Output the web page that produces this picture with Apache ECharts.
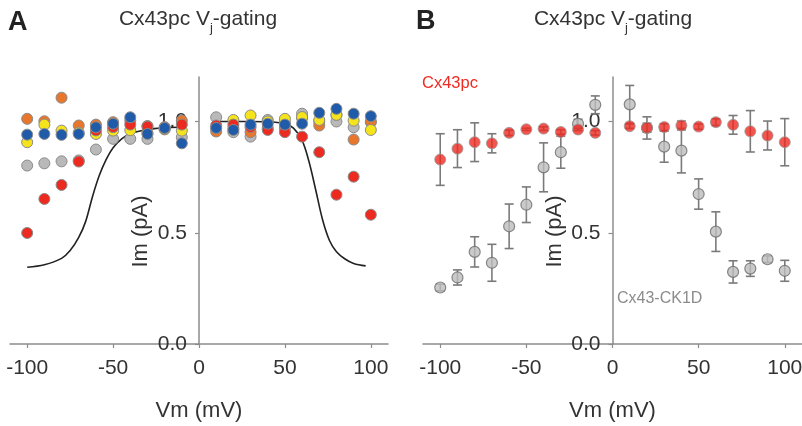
<!DOCTYPE html>
<html>
<head>
<meta charset="utf-8">
<script src="https://cdn.jsdelivr.net/npm/echarts@6/dist/echarts.min.js"></script>
<style>
html,body{margin:0;padding:0;background:#fff;}
#chart{width:802px;height:426px;}
</style>
</head>
<body>
<div id="chart"></div>
<script>
// ---------- data ----------
const vm = [-100,-90,-80,-70,-60,-50,-40,-30,-20,-10,10,20,30,40,50,60,70,80,90,100];
const xTicks = [-100,-50,0,50,100];
const yTicks = [0,0.5,1.0];

// Panel A : individual cells
const cellOrange = [1.012,1.001,1.107,0.982,0.986,0.997,1.004,0.980,0.975,1.004,0.955,0.970,0.952,0.970,0.970,1.015,0.982,1.030,0.919,1.000];
const cellGray   = [0.802,0.812,0.821,0.825,0.874,0.922,0.922,0.922,0.965,0.929,1.019,0.952,0.932,1.007,0.995,1.035,0.998,1.000,0.974,0.997];
const cellYellow = [0.907,0.986,0.959,0.950,0.944,0.959,0.961,0.950,0.965,0.959,0.970,1.007,1.027,1.000,1.012,1.020,1.007,1.030,1.004,0.962];
const cellRed    = [0.499,0.652,0.715,0.820,0.960,0.975,0.986,0.977,0.970,0.986,0.982,0.986,0.975,0.962,0.952,0.932,0.862,0.671,0.752,0.581];
const cellBlue   = [0.941,0.944,0.940,0.944,0.974,0.990,1.019,0.944,0.971,0.902,0.971,0.962,0.986,0.990,0.986,0.990,1.039,1.057,1.035,1.024];

// Panel A : fitted Boltzmann curve
const fitNegVm  = [-100,-90,-80,-75,-70,-66,-62,-58,-54,-50,-45,-40,-30,-20,-12];
const fitNegVal = [0.345,0.356,0.385,0.420,0.479,0.550,0.662,0.758,0.830,0.882,0.922,0.945,0.964,0.972,0.974];
const fitPosVm  = [10,20,30,40,50,55,60,64,68,72,76,80,85,90,97];
const fitPosVal = [1.000,1.000,1.000,0.999,0.990,0.970,0.915,0.820,0.690,0.556,0.464,0.415,0.382,0.362,0.351];

// Panel B : means and error bars
const pcMean  = [0.829,0.878,0.907,0.902,0.949,0.965,0.968,0.953,0.964,0.949,0.979,0.972,0.975,0.982,0.977,0.997,0.985,0.956,0.937,0.907];
const pcErr   = [0.116,0.085,0.087,0.043,0.012,0.005,0.008,0.010,0.005,0.010,0.010,0.020,0.015,0.020,0.012,0.015,0.042,0.093,0.065,0.106];
const ckMean  = [0.254,0.299,0.414,0.365,0.529,0.626,0.794,0.862,0.990,1.075,1.077,0.971,0.887,0.869,0.674,0.505,0.324,0.339,0.381,0.329];
const ckErr   = [0.015,0.034,0.068,0.083,0.100,0.080,0.110,0.072,0.020,0.040,0.085,0.050,0.070,0.100,0.068,0.089,0.050,0.035,0.015,0.047];

// ---------- chart ----------
const FONT = "'Liberation Sans', Arial, sans-serif";
const chart = echarts.init(document.getElementById('chart'), null, {renderer:'canvas'});

function pairs(xs, ys){ return xs.map((x,i)=>[x, ys[i]]); }

function xAxisCfg(gi){
  return {
    type:'value', gridIndex:gi, min:-110, max:110,
    name:'Vm (mV)', nameLocation:'middle', nameGap:56,
    nameTextStyle:{fontFamily:FONT, fontSize:22, color:'#333'},
    axisLine:{onZero:false, lineStyle:{color:'#8c8c8c', width:1.5}},
    axisTick:{show:true, length:4, customValues:xTicks, lineStyle:{color:'#8c8c8c', width:1.2}},
    axisLabel:{customValues:xTicks, margin:14, fontFamily:FONT, fontSize:21, color:'#333'},
    splitLine:{show:false}
  };
}
function yAxisCfg(gi, off){
  return {
    type:'value', gridIndex:gi, min:0, max:1.2, position:'left', offset:off,
    name:'Im (pA)', nameLocation:'middle', nameGap:47, nameRotate:90,
    nameTextStyle:{fontFamily:FONT, fontSize:22, color:'#333', padding:[0,42,0,0]},
    axisLine:{onZero:false, lineStyle:{color:'#8c8c8c', width:1.5}},
    axisTick:{show:true, length:4, customValues:yTicks, lineStyle:{color:'#8c8c8c', width:1.2}},
    axisLabel:{customValues:yTicks, margin:12, fontFamily:FONT, fontSize:21, color:'#333',
      formatter:(v)=>Number(v).toFixed(1)},
    splitLine:{show:false}
  };
}

function cellSeries(data, color, z){
  return {
    type:'scatter', xAxisIndex:0, yAxisIndex:0, data:pairs(vm, data), z:z,
    symbol:'circle', symbolSize:11,
    itemStyle:{color:color, borderColor:'#8a8a8a', borderWidth:1, opacity:1}
  };
}

function errSeries(mean, err, color, z){
  return {
    type:'custom', xAxisIndex:1, yAxisIndex:1, z:z,
    data: vm.map((x,i)=>[x, mean[i]-err[i], mean[i]+err[i]]),
    encode:{x:0, y:[1,2]},
    renderItem:function(params, api){
      const x = api.value(0);
      const lo = api.coord([x, api.value(1)]);
      const hi = api.coord([x, api.value(2)]);
      const w = 4.5;
      const st = {stroke:color, lineWidth:1.6};
      return {type:'group', children:[
        {type:'line', shape:{x1:lo[0], y1:lo[1], x2:hi[0], y2:hi[1]}, style:st},
        {type:'line', shape:{x1:lo[0]-w, y1:lo[1], x2:lo[0]+w, y2:lo[1]}, style:st},
        {type:'line', shape:{x1:hi[0]-w, y1:hi[1], x2:hi[0]+w, y2:hi[1]}, style:st}
      ]};
    }
  };
}

const titleRich = {
  n:{fontFamily:FONT, fontSize:21, fontWeight:'normal', color:'#333', verticalAlign:'bottom', padding:[0,0,5,0]},
  s:{fontFamily:FONT, fontSize:13, fontWeight:'normal', color:'#333', verticalAlign:'bottom', padding:[0,0,0,0]}
};

const option = {
  animation:false,
  backgroundColor:'#fff',
  title:[
    {text:'{n|Cx43pc V}{s|j}{n|-gating}', left:198, top:9, textAlign:'center', padding:0,
      textStyle:{fontWeight:'normal', rich:titleRich}},
    {text:'{n|Cx43pc V}{s|j}{n|-gating}', left:613, top:9, textAlign:'center', padding:0,
      textStyle:{fontWeight:'normal', rich:titleRich}},
    {text:'A', left:8, top:9, padding:0, textStyle:{fontFamily:FONT, fontSize:27, fontWeight:'bold', color:'#222'}},
    {text:'B', left:416, top:8, padding:0, textStyle:{fontFamily:FONT, fontSize:27, fontWeight:'bold', color:'#222'}},
    {text:'Cx43pc', left:422, top:75, padding:0, textStyle:{fontFamily:FONT, fontSize:16.5, fontWeight:'normal', color:'#ee2b22'}},
    {text:'Cx43-CK1D', left:617, top:291, padding:0, textStyle:{fontFamily:FONT, fontSize:16, fontWeight:'normal', color:'#8c8c8c'}}
  ],
  grid:[
    {left:10, top:77, width:378, height:267, containLabel:false, outerBoundsMode:'none'},
    {left:423, top:77, width:379, height:267, containLabel:false, outerBoundsMode:'none'}
  ],
  xAxis:[xAxisCfg(0), xAxisCfg(1)],
  yAxis:[yAxisCfg(0, -189), yAxisCfg(1, -189.5)],
  series:[
    {type:'line', xAxisIndex:0, yAxisIndex:0, data:pairs(fitNegVm, fitNegVal), smooth:0.35,
      showSymbol:false, z:2, lineStyle:{color:'#222', width:1.6}},
    {type:'line', xAxisIndex:0, yAxisIndex:0, data:pairs(fitPosVm, fitPosVal), smooth:0.35,
      showSymbol:false, z:2, lineStyle:{color:'#222', width:1.6}},
    cellSeries(cellGray,   '#b9b9b9', 3),
    cellSeries(cellOrange, '#e8762b', 4),
    cellSeries(cellYellow, '#f5e31c', 5),
    cellSeries(cellRed,    '#ec2a20', 6),
    cellSeries(cellBlue,   '#1f5ba8', 7),
    errSeries(ckMean, ckErr, '#7a7a7a', 3),
    {type:'scatter', xAxisIndex:1, yAxisIndex:1, data:pairs(vm, ckMean), z:4,
      symbol:'circle', symbolSize:11, itemStyle:{color:'#bdbdbd', borderColor:'#6e6e6e', borderWidth:1.2}},
    errSeries(pcMean, pcErr, '#7a7a7a', 5),
    {type:'scatter', xAxisIndex:1, yAxisIndex:1, data:pairs(vm, pcMean), z:6,
      symbol:'circle', symbolSize:11, itemStyle:{color:'#ee2b22', borderColor:'#9a9a9a', borderWidth:1}}
  ]
};
chart.setOption(option);
</script>
</body>
</html>
